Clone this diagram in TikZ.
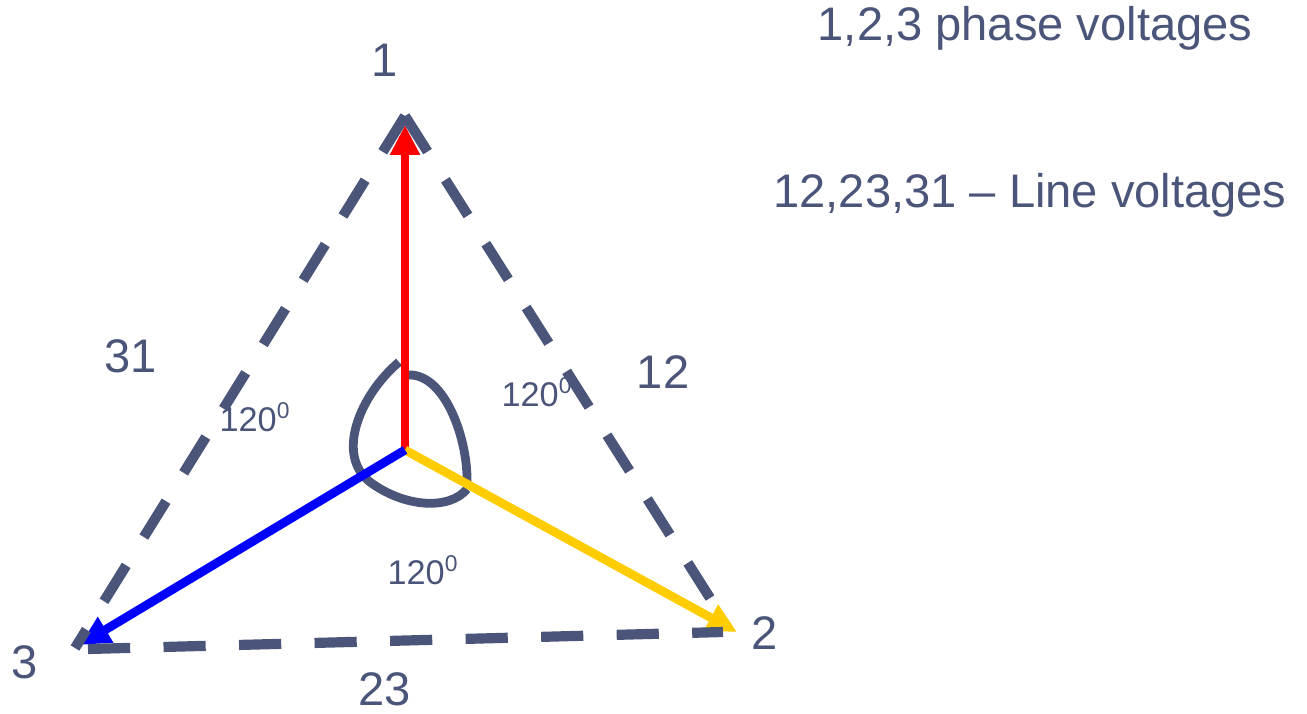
\documentclass[tikz,border=0pt]{standalone}
\usepackage{fontspec}
\setmainfont{Liberation Sans}
\usetikzlibrary{arrows.meta}
\definecolor{slate}{RGB}{75,85,121}
\definecolor{ured}{RGB}{255,0,0}
\definecolor{uyel}{RGB}{255,204,0}
\definecolor{ublue}{RGB}{0,0,255}
\tikzset{
  phasor/.style={line width=5pt, -{Triangle[length=17pt,width=16pt]}},
  linev/.style={slate, line width=5.8pt, dash pattern=on 24pt off 19pt},
  loopline/.style={slate, line width=5pt},
  big/.style={text=slate, font=\fontsize{26.8}{30}\selectfont, inner sep=0pt},
  ang/.style={text=slate, font=\fontsize{19.5}{22}\selectfont, inner sep=0pt}
}
\newcommand{\supdeg}{\textsuperscript{\fontsize{13}{14}\selectfont 0}}
\begin{document}
\begin{tikzpicture}[x=0.02cm,y=-0.02cm]
\useasboundingbox (0,0) rectangle (1307,713);
% coordinates
\coordinate (O) at (405,450);
\coordinate (T1) at (405,125);
\coordinate (T2) at (737,632);
\coordinate (T3) at (80,645);
\coordinate (V1) at (405,116);
\coordinate (V2L) at (710,598);
\coordinate (V3L) at (75,648);
\coordinate (B3) at (88,649);
\coordinate (B2) at (723,632);
% angle loop
\coordinate (L1s) at (399,362);
\coordinate (L1e) at (467,489);
\coordinate (L2s) at (407,375);
\coordinate (L2e) at (467,482);
\draw[loopline] (L1s) .. controls (360,395) and (335,455) .. (370,482)
   .. controls (405,508) and (450,510) .. (L1e);
\draw[loopline] (L2s) .. controls (445,372) and (468,440) .. (L2e);
% phasors
\draw[phasor, ured] (O) -- (T1);
\draw[phasor, uyel] (O) -- (T2);
\draw[phasor, ublue] (O) -- (T3);
% line voltages (dashed triangle)
\draw[linev] (V1) -- (V3L);
\draw[linev] (V1) -- (V2L);
\draw[linev] (B3) -- (B2);
% labels
\node[big] (n1) at (385,60) {1};
\node[big] (n2) at (765,633) {2};
\node[big] (n3) at (25,662) {3};
\node[big] (n12) at (663,372) {12};
\node[big] (n23) at (385,689) {23};
\node[big] (n31) at (131,356) {31};
\node[ang] (a1) at (255,417) {120\supdeg};
\node[ang] (a2) at (537,392) {120\supdeg};
\node[ang] (a3) at (423,570) {120\supdeg};
\node[big] (t1) at (1035,28) {1,2,3 phase voltages};
\node[big] (t2) at (1030,195) {12,23,31 – Line voltages};
\end{tikzpicture}
\end{document}
